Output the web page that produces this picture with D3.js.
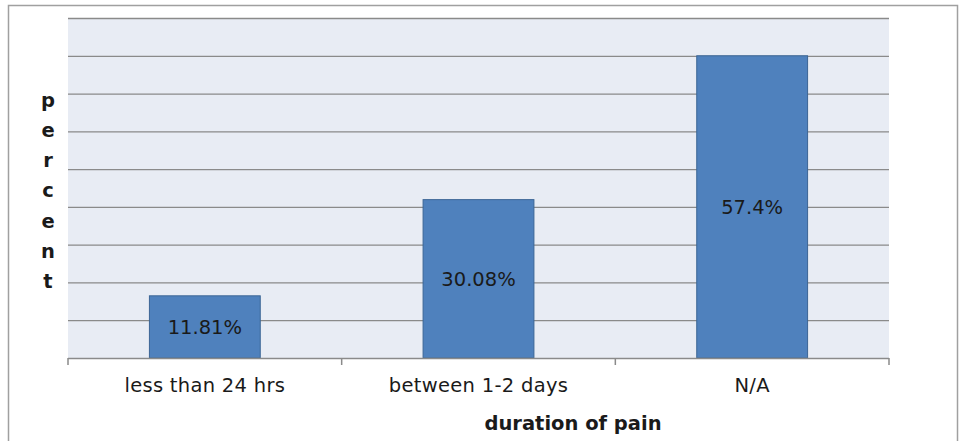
<!DOCTYPE html>
<html>
<head>
<meta charset="utf-8">
<script src="https://cdn.jsdelivr.net/npm/d3@7"></script>
<style>
  html, body { margin: 0; padding: 0; background: #fff; }
  svg { display: block; }
</style>
</head>
<body>
<svg id="chart" width="959" height="441"></svg>
<script>
// Duration of pain, share of respondents (%)
const categories = ["less than 24 hrs", "between 1-2 days", "N/A"];
const values = [11.81, 30.08, 57.4];
const valueLabels = ["11.81%", "30.08%", "57.4%"];
const yAxisTitle = "percent";
const xAxisTitle = "duration of pain";

const svg = d3.select("#chart");
const W = 959, H = 441;
const margin = { left: 68, right: 70, top: 18, bottom: 83 };
const plotW = W - margin.left - margin.right;
const plotH = H - margin.top - margin.bottom;
const FONT = "DejaVu Sans, Verdana, sans-serif";
const FS = 19.5;

// Nine equal gridline bands; the tallest bar reaches the eighth gridline
const nBands = 9;
const yMax = 57.4 * nBands / 8;
const gridValues = d3.range(0, nBands + 1).map(i => i * yMax / nBands);

const x = d3.scaleBand().domain(categories).range([0, plotW]).paddingInner(0.595).paddingOuter(0.2975);
const y = d3.scaleLinear().domain([0, yMax]).range([plotH, 0]);

// Outer chart frame
svg.append("rect")
  .attr("x", 8.5).attr("y", 5.5)
  .attr("width", 949).attr("height", 460)
  .attr("fill", "none").attr("stroke", "#a0a0a0").attr("stroke-width", 1.5);

const g = svg.append("g").attr("transform", `translate(${margin.left},${margin.top})`);

// Plot area background
g.append("rect")
  .attr("x", 0).attr("y", 0).attr("width", plotW).attr("height", plotH)
  .attr("fill", "#e8ecf4");

// Horizontal gridlines
g.append("g")
  .call(d3.axisLeft(y).tickValues(gridValues.slice(1)).tickSize(-plotW).tickFormat(""))
  .call(a => a.select(".domain").remove())
  .call(a => a.selectAll(".tick line").attr("stroke", "#8a8a8a").attr("stroke-width", 1.3));

// Bars
g.selectAll("rect.bar")
  .data(values)
  .join("rect")
  .attr("class", "bar")
  .attr("x", (d, i) => x(categories[i]))
  .attr("y", d => y(d))
  .attr("width", x.bandwidth())
  .attr("height", d => plotH - y(d))
  .attr("fill", "#4f81bd")
  .attr("stroke", "#3b6595")
  .attr("stroke-width", 1);

// Value labels centred in each bar
g.selectAll("text.val")
  .data(values)
  .join("text")
  .attr("class", "val")
  .attr("x", (d, i) => x(categories[i]) + x.bandwidth() / 2)
  .attr("y", d => (y(d) + plotH) / 2)
  .attr("dy", "0.35em")
  .attr("text-anchor", "middle")
  .attr("font-family", FONT)
  .attr("font-size", FS)
  .attr("fill", "#1a1a1a")
  .text((d, i) => valueLabels[i]);

// Category axis with boundary ticks
const xAxisG = g.append("g").attr("transform", `translate(0,${plotH})`);
xAxisG.append("line")
  .attr("x1", 0).attr("x2", plotW).attr("y1", 0.5).attr("y2", 0.5)
  .attr("stroke", "#8a8a8a").attr("stroke-width", 1.5);
const boundaries = d3.range(0, categories.length + 1).map(i => i * plotW / categories.length);
xAxisG.selectAll("line.tk")
  .data(boundaries)
  .join("line")
  .attr("class", "tk")
  .attr("x1", d => d).attr("x2", d => d)
  .attr("y1", 0).attr("y2", 7)
  .attr("stroke", "#8a8a8a").attr("stroke-width", 1.5);
xAxisG.selectAll("text.cat")
  .data(categories)
  .join("text")
  .attr("class", "cat")
  .attr("x", d => x(d) + x.bandwidth() / 2)
  .attr("y", 27)
  .attr("dy", "0.35em")
  .attr("text-anchor", "middle")
  .attr("font-family", FONT)
  .attr("font-size", FS)
  .attr("letter-spacing", 0.3)
  .attr("fill", "#1a1a1a")
  .text(d => d);

// X axis title
svg.append("text")
  .attr("x", 573).attr("y", 423)
  .attr("dy", "0.35em")
  .attr("text-anchor", "middle")
  .attr("font-family", FONT)
  .attr("font-weight", "bold")
  .attr("font-size", FS)
  .attr("fill", "#1a1a1a")
  .text(xAxisTitle);

// Y axis title, stacked letters
svg.append("g").selectAll("text")
  .data(yAxisTitle.split(""))
  .join("text")
  .attr("x", 48)
  .attr("y", (d, i) => 100 + i * 30.2)
  .attr("dy", "0.35em")
  .attr("text-anchor", "middle")
  .attr("font-family", FONT)
  .attr("font-weight", "bold")
  .attr("font-size", FS)
  .attr("fill", "#1a1a1a")
  .text(d => d);
</script>
</body>
</html>
